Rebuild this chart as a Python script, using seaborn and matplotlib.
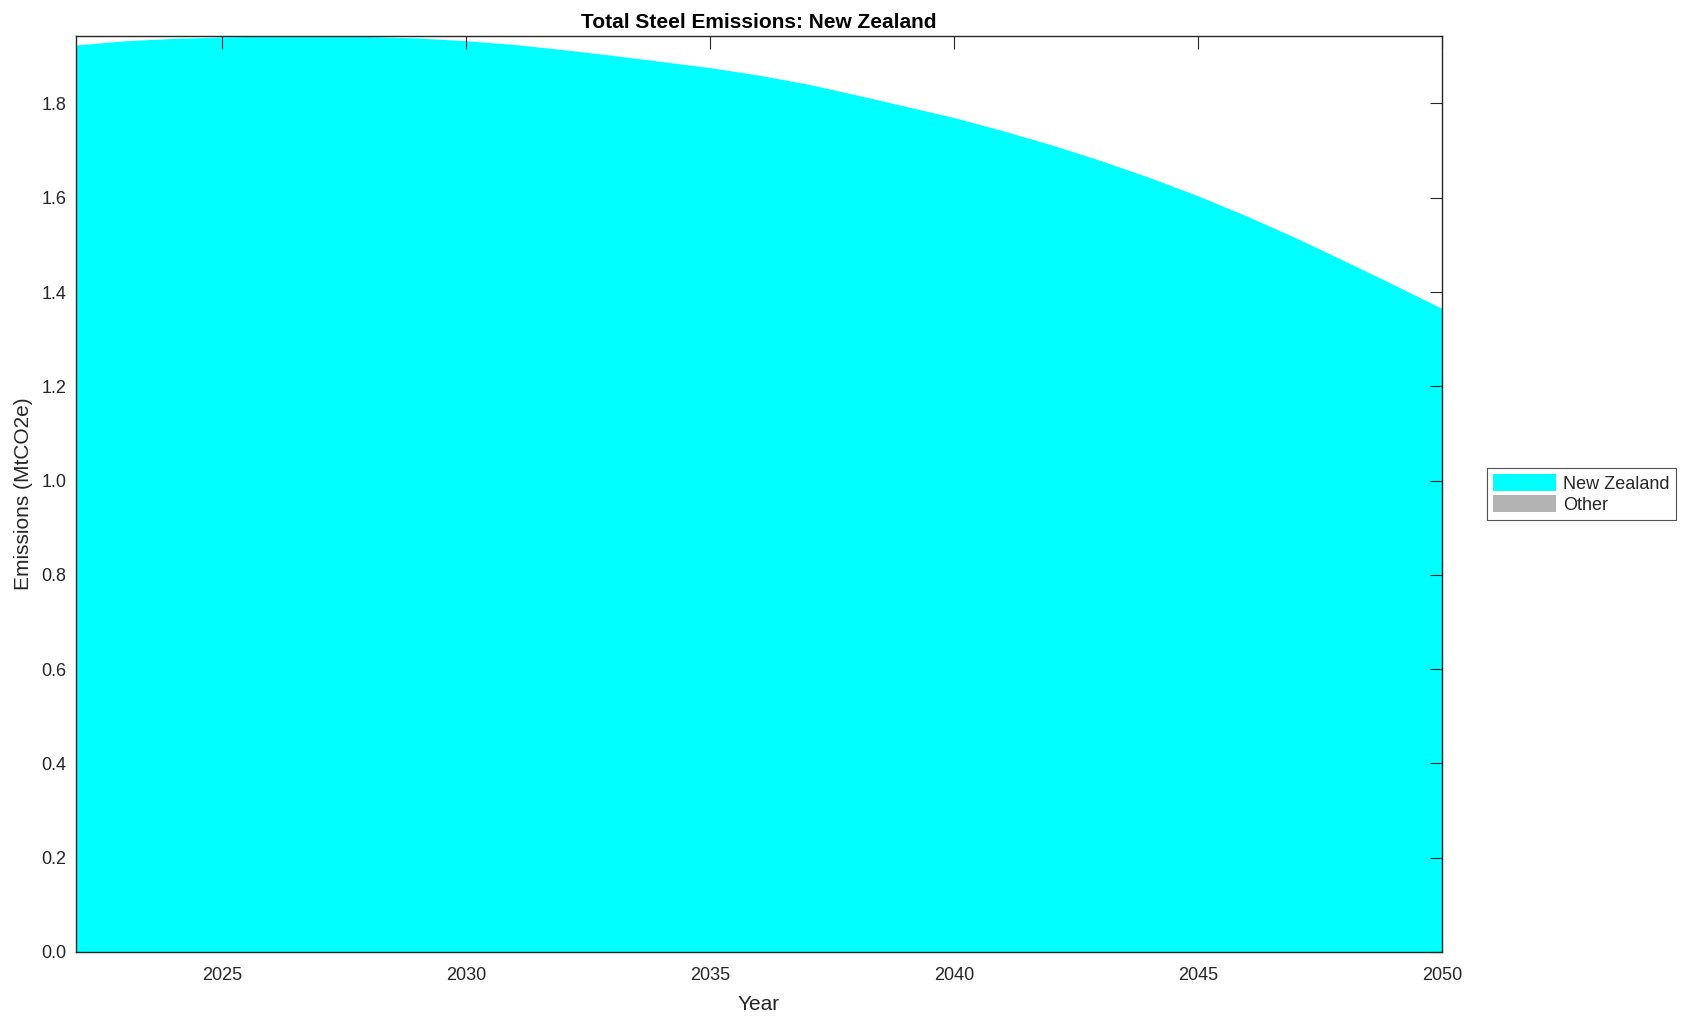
import numpy as np
import seaborn as sns
import matplotlib
matplotlib.use("Agg")
import matplotlib.pyplot as plt
from matplotlib.patches import Patch

# values (MtCO2e)
years = list(range(2022, 2051))
nz_emissions = [1.924, 1.933, 1.938, 1.941, 1.943, 1.943, 1.942, 1.939, 1.933, 1.925,
                1.914, 1.902, 1.889, 1.876, 1.860, 1.841, 1.818, 1.794, 1.770, 1.742,
                1.712, 1.679, 1.643, 1.604, 1.561, 1.515, 1.466, 1.416, 1.365]
other_emissions = [0.0] * len(years)
series_names = ["New Zealand", "Other"]
series_colors = ["#00ffff", "#b3b3b3"]
x_ticks = [2025, 2030, 2035, 2040, 2045, 2050]
y_ticks = [0.0, 0.2, 0.4, 0.6, 0.8, 1.0, 1.2, 1.4, 1.6, 1.8]

sns.set_style("white")
plt.rcParams["font.family"] = ["Liberation Sans", "DejaVu Sans"]

fig = plt.figure(figsize=(16.89, 10.21), dpi=100)
ax = fig.add_axes([0.045, 0.0676, 0.8088, 0.8971])

ax.stackplot(years, nz_emissions, other_emissions,
             colors=series_colors, linewidth=0)

ax.set_xlim(years[0], years[-1])
ax.set_ylim(0, max(np.array(nz_emissions) + np.array(other_emissions)))
ax.set_xticks(x_ticks)
ax.set_yticks(y_ticks)
ax.set_yticklabels([f"{v:.1f}" for v in y_ticks])
ax.tick_params(direction="in", length=9, width=0.8, colors="#262626",
               labelsize=13, top=True, right=True, pad=7)
ax.tick_params(axis="x", pad=11)
for side in ax.spines.values():
    side.set_color("#262626")
    side.set_linewidth(1.0)
ax.set_axisbelow(False)

ax.set_xlabel("Year", fontsize=15, color="#262626", labelpad=8)
ax.set_ylabel("Emissions (MtCO2e)", fontsize=15, color="#262626", labelpad=6)
ax.set_title("Total Steel Emissions: New Zealand", fontsize=15,
             fontweight="bold", color="black", pad=6)

handles = [Patch(facecolor=c, edgecolor="none") for c in series_colors]
leg = ax.legend(handles, series_names, loc="center left",
                bbox_to_anchor=(1.026, 0.5), fontsize=13, frameon=True,
                fancybox=False, handlelength=3.5, handleheight=1.0,
                handletextpad=0.4, borderpad=0.35, labelspacing=0.15)
leg.get_frame().set_edgecolor("#262626")
leg.get_frame().set_linewidth(0.8)

fig.savefig("out.png", dpi=100)
